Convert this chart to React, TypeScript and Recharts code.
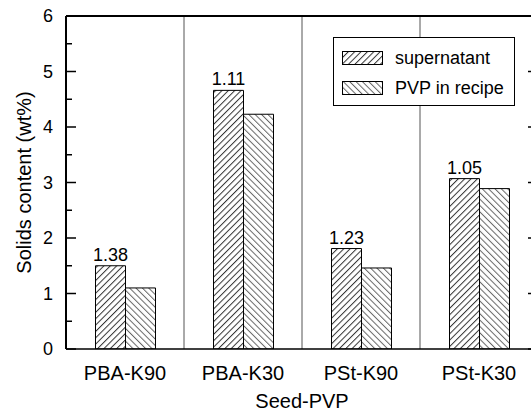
import React from "react"
import {
    BarChart,
    Bar,
    XAxis,
    YAxis,
    Legend,
    LabelList,
    Label,
    ReferenceLine,
    CartesianGrid,
} from "recharts"

const categories = ["PBA-K90", "PBA-K30", "PSt-K90", "PSt-K30"]
const supernatant = [1.5, 4.66, 1.81, 3.07]
const pvpInRecipe = [1.1, 4.23, 1.46, 2.89]
const ratioLabels = ["1.38", "1.11", "1.23", "1.05"]
const majorTicks = [0, 1, 2, 3, 4, 5, 6]
const minorTicks = [0.5, 1.5, 2.5, 3.5, 4.5, 5.5]
const groupBounds = [1, 2, 3]

const data = categories.map((name, i) => ({
    name,
    supernatant: supernatant[i],
    pvp: pvpInRecipe[i],
    ratio: ratioLabels[i],
}))

const font = "'Liberation Sans', Arial, sans-serif"

function Hatch({ id, angle, color }: { id: string; angle: number; color: string }) {
    return (
        <pattern id={id} width={4.5} height={10} patternUnits="userSpaceOnUse" patternTransform={`rotate(${angle})`}>
            <rect width={4.5} height={10} fill="#fff" />
            <line x1={0.5} y1={0} x2={0.5} y2={10} stroke={color} strokeWidth={1} />
        </pattern>
    )
}

const legendItems = [
    { label: "supernatant", angle: 45, color: "#333" },
    { label: "PVP in recipe", angle: -45, color: "#666" },
]

function LegendBox() {
    return (
        <div
            style={{
                position: "relative",
                width: 180,
                height: 67,
                border: "1px solid #000",
                background: "#fff",
                fontFamily: font,
                fontSize: 18,
                color: "#000",
            }}
        >
            {legendItems.map((it, i) => (
                <div key={it.label} style={{ position: "absolute", left: 8, top: 13 + i * 30, display: "flex", alignItems: "center" }}>
                    <svg width={41} height={14} style={{ display: "block" }}>
                        <defs>
                            <Hatch id={`lg${i}`} angle={it.angle} color={it.color} />
                        </defs>
                        <rect x={0.5} y={0.5} width={40} height={13} fill={`url(#lg${i})`} stroke="#000" strokeWidth={1} />
                    </svg>
                    <span style={{ marginLeft: 12, lineHeight: "14px" }}>{it.label}</span>
                </div>
            ))}
        </div>
    )
}

const noTick = () => <g />

export default function App() {
    return (
        <div style={{ position: "absolute", left: 0, top: 0, width: 531, height: 412, overflow: "hidden", background: "#fff" }}>
            <BarChart
                width={545}
                height={412}
                data={data}
                margin={{ top: 16, right: 7, left: 0, bottom: 0 }}
                barCategoryGap="25%"
                barGap={0}
                style={{ fontFamily: font }}
            >
                <defs>
                    <Hatch id="hatchSup" angle={45} color="#333" />
                    <Hatch id="hatchPvp" angle={-45} color="#666" />
                </defs>
                <CartesianGrid
                    yAxisId="left"
                    horizontal={false}
                    stroke="#555"
                    strokeWidth={1}
                    verticalCoordinatesGenerator={({ offset }: any) =>
                        groupBounds.map((b) => offset.left + (offset.width * b) / categories.length)
                    }
                />
                <XAxis
                    dataKey="name"
                    height={63}
                    tickSize={0}
                    tickMargin={17}
                    tickLine={false}
                    axisLine={{ stroke: "#000", strokeWidth: 1.5 }}
                    tick={{ fontSize: 20, fill: "#000" }}
                    interval={0}
                >
                    <Label value="Seed-PVP" position="insideBottom" offset={4} style={{ fontSize: 20, fill: "#000" }} />
                </XAxis>
                <YAxis
                    yAxisId="left"
                    domain={[0, 6]}
                    ticks={majorTicks}
                    allowDataOverflow
                    width={66}
                    tickSize={0}
                    tickMargin={13}
                    tickLine={false}
                    axisLine={{ stroke: "#000", strokeWidth: 2 }}
                    tick={{ fontSize: 18, fill: "#000" }}
                >
                    <Label
                        content={({ viewBox }: any) => {
                            const cy = viewBox.y + viewBox.height / 2
                            const cx = 24
                            return (
                                <text
                                    x={cx}
                                    y={cy}
                                    transform={`rotate(-90 ${cx} ${cy})`}
                                    textAnchor="middle"
                                    dominantBaseline="central"
                                    fontSize={20}
                                    fill="#000"
                                >
                                    Solids content (wt%)
                                </text>
                            )
                        }}
                    />
                </YAxis>
                <YAxis
                    yAxisId="major"
                    mirror
                    width={1}
                    domain={[0, 6]}
                    ticks={majorTicks}
                    allowDataOverflow
                    tickSize={10}
                    tick={noTick}
                    axisLine={false}
                    tickLine={{ stroke: "#000", strokeWidth: 1.5 }}
                />
                <YAxis
                    yAxisId="minor"
                    mirror
                    width={1}
                    domain={[0, 6]}
                    ticks={minorTicks}
                    allowDataOverflow
                    tickSize={5}
                    tick={noTick}
                    axisLine={false}
                    tickLine={{ stroke: "#000", strokeWidth: 1.5 }}
                />
                <YAxis
                    yAxisId="right"
                    orientation="right"
                    mirror
                    width={1}
                    domain={[0, 6]}
                    ticks={majorTicks}
                    allowDataOverflow
                    tickSize={10}
                    tick={noTick}
                    axisLine={{ stroke: "#000", strokeWidth: 2 }}
                    tickLine={{ stroke: "#000", strokeWidth: 1.5 }}
                />
                <ReferenceLine yAxisId="left" y={6} stroke="#000" strokeWidth={2} />
                <Bar yAxisId="left" dataKey="supernatant" fill="url(#hatchSup)" stroke="#000" strokeWidth={1} isAnimationActive={false}>
                    <LabelList dataKey="ratio" position="top" offset={5} fill="#000" fontSize={18} />
                </Bar>
                <Bar yAxisId="left" dataKey="pvp" fill="url(#hatchPvp)" stroke="#000" strokeWidth={1} isAnimationActive={false} />
                <Legend
                    layout="vertical"
                    align="center"
                    verticalAlign="middle"
                    content={() => <LegendBox />}
                    wrapperStyle={{ left: 333, top: 37, width: 182, height: 69 }}
                />
            </BarChart>
        </div>
    )
}
